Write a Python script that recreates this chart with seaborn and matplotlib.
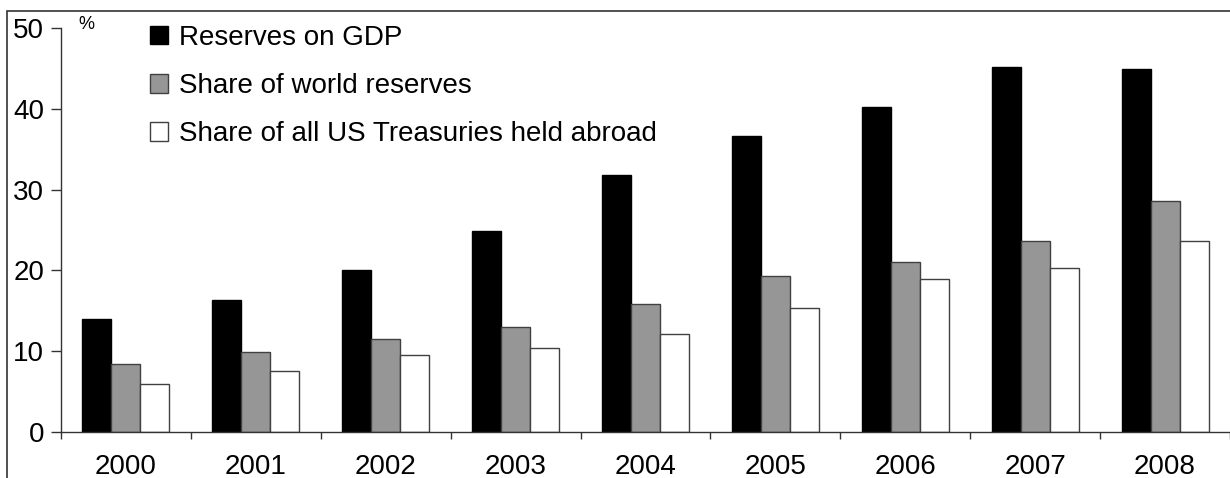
import pandas as pd
import matplotlib
matplotlib.use("Agg")
import matplotlib.pyplot as plt
import seaborn as sns
from matplotlib.patches import Rectangle
from matplotlib.ticker import FixedLocator

years = ["2000", "2001", "2002", "2003", "2004", "2005", "2006", "2007", "2008"]
reserves_gdp = [14.0, 16.3, 20.0, 24.9, 31.8, 36.6, 40.2, 45.2, 44.9]
world_share = [8.4, 9.9, 11.5, 13.0, 15.9, 19.3, 21.1, 23.7, 28.6]
treasuries_share = [6.0, 7.5, 9.5, 10.4, 12.1, 15.3, 18.9, 20.3, 23.7]
series = ["Reserves on GDP", "Share of world reserves", "Share of all US Treasuries held abroad"]
colors = ["#000000", "#969696", "#ffffff"]

df = pd.concat([
    pd.DataFrame({"Year": years, "Value": vals, "Series": name})
    for name, vals in zip(series, [reserves_gdp, world_share, treasuries_share])
])

sns.set_style("white", {"text.color": "black", "xtick.color": "black", "ytick.color": "black"})
plt.rcParams['font.family'] = ['Liberation Sans', 'DejaVu Sans']

fig = plt.figure(figsize=(12.3, 4.78), dpi=100)
ax = fig.add_axes([61 / 1230, 1 - 432 / 478, 1 - 61 / 1230, (432 - 28) / 478])
sns.barplot(df, x="Year", y="Value", hue="Series", palette=colors, width=0.67,
            saturation=1, ax=ax)

# edges like the original
for cont, ec in zip(ax.containers, ["#000000", "#404040", "#404040"]):
    for p in cont:
        p.set_edgecolor(ec)
        p.set_linewidth(1.0)

ax.set_xlim(-0.5, 8.5)
ax.set_ylim(0, 50)
ax.set_yticks(range(0, 51, 10))
ax.set_xlabel("")
ax.set_ylabel("")
for s in ["top", "right"]:
    ax.spines[s].set_visible(False)
for s in ["left", "bottom"]:
    ax.spines[s].set_color("#333333")
    ax.spines[s].set_linewidth(1.0)

ax.tick_params(axis="y", which="major", direction="out", length=7, width=1,
               color="#333333", labelcolor="black", labelsize=20, pad=5, left=True)
ax.tick_params(axis="x", which="major", length=0, labelsize=20, labelcolor="black", pad=16)
ax.xaxis.set_minor_locator(FixedLocator([i - 0.5 for i in range(10)]))
ax.tick_params(axis="x", which="minor", direction="out", length=5, width=1,
               color="#333333", bottom=True)

fig.text(78 / 1230, 1 - 16 / 478, "%", fontsize=13, color="black", va="top", ha="left")

handles, labels = ax.get_legend_handles_labels()
for h, ec in zip(handles, ["#000000", "#404040", "#404040"]):
    h.set_edgecolor(ec)
    h.set_linewidth(1.0)
leg = ax.legend(handles, labels, loc="upper left", bbox_to_anchor=(78 / 1169, 1.035),
                frameon=False, fontsize=20, handlelength=0.65, handleheight=0.65,
                handletextpad=0.4, labelspacing=0.8, borderaxespad=0)
for t in leg.get_texts():
    t.set_color("black")

# outer frame
fig.patches.append(Rectangle((7 / 1230, -0.05), 1.1, 1 - 11 / 478 + 0.05,
                             transform=fig.transFigure, fill=False,
                             edgecolor="#333333", linewidth=1.2, zorder=10))

fig.savefig("out.png", dpi=100)
